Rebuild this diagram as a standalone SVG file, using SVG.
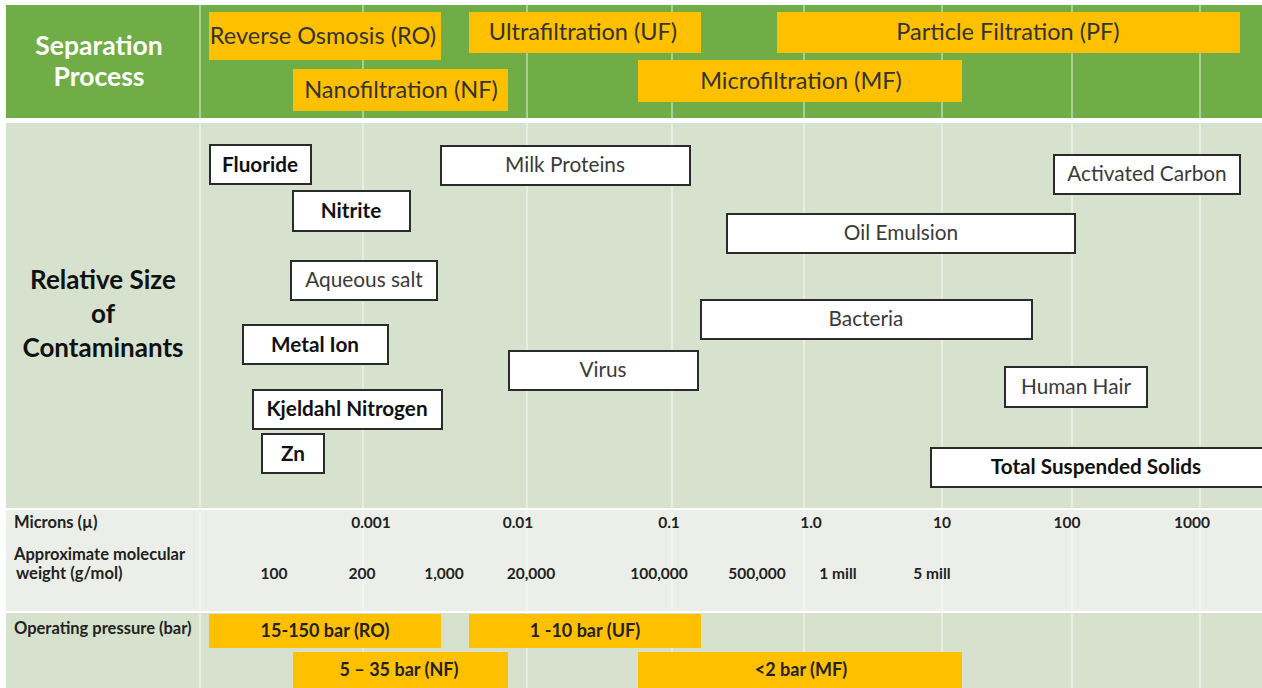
<svg xmlns="http://www.w3.org/2000/svg" width="1262" height="688" viewBox="0 0 1262 688">
  <style>
    .t { font-family: Lato, "Liberation Sans", sans-serif; }
    .title { font-weight: 700; font-size: 26.5px; fill: #ffffff; text-anchor: middle; }
    .rowlbl { font-weight: 700; font-size: 26px; fill: #111111; text-anchor: middle; }
    .proc { fill: #ffc000; }
    .proctx { font-size: 23.5px; fill: #333333; text-anchor: middle; }
    .box { fill: #ffffff; stroke: #2b2b2b; stroke-width: 2; }
    .n { font-size: 20.8px; fill: #3a3a3a; text-anchor: middle; }
    .b { font-size: 20.7px; font-weight: 700; fill: #111111; text-anchor: middle; }
    .ax { font-size: 16.5px; font-weight: 700; fill: #222222; }
    .axc { font-size: 15.5px; font-weight: 700; fill: #222222; text-anchor: middle; }
    .pr { font-size: 18px; font-weight: 700; fill: #222222; text-anchor: middle; }
    .grid { stroke: #ffffff; stroke-opacity: 0.55; stroke-width: 1.5; }
  </style>

  <!-- backgrounds -->
  <g id="background">
    <rect x="0" y="0" width="1262" height="688" fill="#ffffff"/>
    <rect x="6" y="5" width="1256" height="113" fill="#70ad47"/>
    <rect x="6" y="123" width="1256" height="385" fill="#d6e2cd"/>
    <rect x="6" y="510" width="1256" height="101" fill="#ecefe9"/>
    <rect x="6" y="613" width="1256" height="75" fill="#d6e2cd"/>
  </g>

  <!-- grid lines -->
  <g id="grid" class="grid">
    <line x1="200" y1="5" x2="200" y2="688"/>
    <line x1="363" y1="5" x2="363" y2="688"/>
    <line x1="527" y1="5" x2="527" y2="688"/>
    <line x1="672" y1="5" x2="672" y2="688"/>
    <line x1="804" y1="5" x2="804" y2="688"/>
    <line x1="942" y1="5" x2="942" y2="688"/>
    <line x1="1072" y1="5" x2="1072" y2="688"/>
    <line x1="1200" y1="5" x2="1200" y2="688"/>
  </g>

  <!-- row labels -->
  <g id="label-separation" class="t">
    <text class="title" x="99" y="55">Separation</text>
    <text class="title" x="99" y="86">Process</text>
  </g>
  <g id="label-contaminants" class="t">
    <text class="rowlbl" x="103" y="289">Relative Size</text>
    <text class="rowlbl" x="103" y="323">of</text>
    <text class="rowlbl" x="103" y="357">Contaminants</text>
  </g>

  <!-- separation processes -->
  <g id="proc-ro" class="t">
    <rect class="proc" x="209" y="12" width="232" height="48"/>
    <text class="proctx" x="323" y="44">Reverse Osmosis (RO)</text>
  </g>
  <g id="proc-uf" class="t">
    <rect class="proc" x="469" y="12" width="232" height="41"/>
    <text class="proctx" x="583" y="40">Ultrafiltration (UF)</text>
  </g>
  <g id="proc-pf" class="t">
    <rect class="proc" x="777" y="12" width="463" height="41"/>
    <text class="proctx" x="1008" y="40">Particle Filtration (PF)</text>
  </g>
  <g id="proc-nf" class="t">
    <rect class="proc" x="293" y="69" width="215" height="42"/>
    <text class="proctx" x="401" y="98">Nanofiltration (NF)</text>
  </g>
  <g id="proc-mf" class="t">
    <rect class="proc" x="638" y="60" width="324" height="42"/>
    <text class="proctx" x="801" y="89">Microfiltration (MF)</text>
  </g>

  <!-- contaminants -->
  <g id="c-fluoride" class="t">
    <rect class="box" x="210" y="145" width="101" height="39"/>
    <text class="b" x="260" y="172">Fluoride</text>
  </g>
  <g id="c-milk" class="t">
    <rect class="box" x="441" y="146" width="249" height="39"/>
    <text class="n" x="565" y="172">Milk Proteins</text>
  </g>
  <g id="c-nitrite" class="t">
    <rect class="box" x="293" y="191" width="117" height="40"/>
    <text class="b" x="351" y="218">Nitrite</text>
  </g>
  <g id="c-aqueous" class="t">
    <rect class="box" x="291" y="261" width="146" height="39"/>
    <text class="n" x="364" y="287">Aqueous salt</text>
  </g>
  <g id="c-metal" class="t">
    <rect class="box" x="243" y="325" width="145" height="39"/>
    <text class="b" x="315" y="352">Metal Ion</text>
  </g>
  <g id="c-virus" class="t">
    <rect class="box" x="509" y="351" width="189" height="39"/>
    <text class="n" x="603" y="377">Virus</text>
  </g>
  <g id="c-kjeldahl" class="t">
    <rect class="box" x="253" y="390" width="189" height="39"/>
    <text class="b" x="347" y="416">Kjeldahl Nitrogen</text>
  </g>
  <g id="c-zn" class="t">
    <rect class="box" x="262" y="434" width="62" height="39"/>
    <text class="b" x="293" y="461">Zn</text>
  </g>
  <g id="c-carbon" class="t">
    <rect class="box" x="1054" y="155" width="186" height="39"/>
    <text class="n" x="1147" y="181">Activated Carbon</text>
  </g>
  <g id="c-oil" class="t">
    <rect class="box" x="727" y="214" width="348" height="39"/>
    <text class="n" x="901" y="240">Oil Emulsion</text>
  </g>
  <g id="c-bacteria" class="t">
    <rect class="box" x="701" y="300" width="331" height="39"/>
    <text class="n" x="866" y="326">Bacteria</text>
  </g>
  <g id="c-hair" class="t">
    <rect class="box" x="1005" y="367" width="142" height="40"/>
    <text class="n" x="1076" y="394">Human Hair</text>
  </g>
  <g id="c-tss" class="t">
    <rect class="box" x="931" y="448" width="340" height="39"/>
    <text class="b" x="1096" y="474">Total Suspended Solids</text>
  </g>

  <!-- scale rows -->
  <g id="axis-microns" class="t">
    <text class="ax" x="14" y="528">Microns (µ)</text>
    <text class="axc" x="371" y="528">0.001</text>
    <text class="axc" x="518" y="528">0.01</text>
    <text class="axc" x="669" y="528">0.1</text>
    <text class="axc" x="811" y="528">1.0</text>
    <text class="axc" x="942" y="528">10</text>
    <text class="axc" x="1067" y="528">100</text>
    <text class="axc" x="1192" y="528">1000</text>
  </g>
  <g id="axis-mw" class="t">
    <text class="ax" x="14" y="560">Approximate molecular</text>
    <text class="ax" x="16" y="579">weight (g/mol)</text>
    <text class="axc" x="274" y="579">100</text>
    <text class="axc" x="362" y="579">200</text>
    <text class="axc" x="444" y="579">1,000</text>
    <text class="axc" x="531" y="579">20,000</text>
    <text class="axc" x="659" y="579">100,000</text>
    <text class="axc" x="757" y="579">500,000</text>
    <text class="axc" x="838" y="579">1 mill</text>
    <text class="axc" x="932" y="579">5 mill</text>
  </g>

  <!-- operating pressure -->
  <g id="pressure" class="t">
    <text class="ax" x="14" y="634">Operating pressure (bar)</text>
  </g>
  <g id="p-ro" class="t">
    <rect class="proc" x="209" y="614" width="232" height="34"/>
    <text class="pr" x="325" y="637">15-150 bar (RO)</text>
  </g>
  <g id="p-uf" class="t">
    <rect class="proc" x="469" y="614" width="232" height="34"/>
    <text class="pr" x="585" y="637">1 -10 bar (UF)</text>
  </g>
  <g id="p-nf" class="t">
    <rect class="proc" x="293" y="652" width="215" height="36"/>
    <text class="pr" x="399" y="676">5 – 35 bar (NF)</text>
  </g>
  <g id="p-mf" class="t">
    <rect class="proc" x="638" y="652" width="324" height="36"/>
    <text class="pr" x="801" y="676">&lt;2 bar (MF)</text>
  </g>
</svg>
